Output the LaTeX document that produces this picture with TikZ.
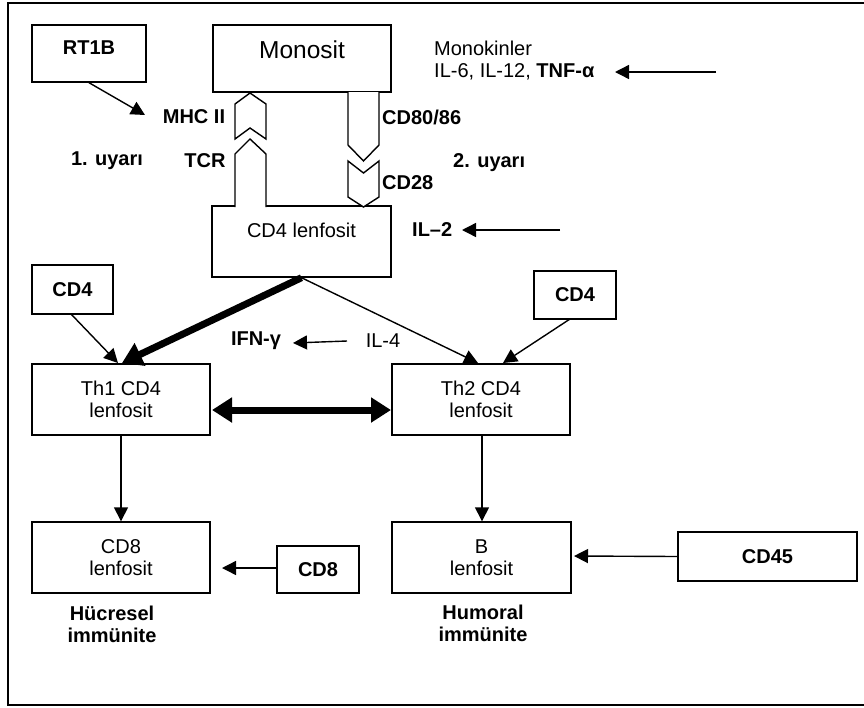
\documentclass[tikz,border=0pt]{standalone}
\usepackage{fontspec}
\setmainfont{Liberation Sans}
\usetikzlibrary{arrows.meta}
\begin{document}
\begin{tikzpicture}[x=1pt,y=-1pt,
  box/.style={draw, line width=1.4pt, fill=white, inner sep=0pt, font=\fontsize{20}{22}\selectfont, align=center},
  lbl/.style={inner sep=0pt, font=\fontsize{20}{22}\selectfont\bfseries, align=center},
  txt/.style={inner sep=0pt, font=\fontsize{20}{22}\selectfont, align=center},
  conn/.style={line width=1.4pt, -{Triangle[length=14pt,width=14pt]}},
  heavy/.style={line width=7pt, -{Triangle[length=20pt,width=24pt]}},
  recep/.style={draw, line width=1.4pt, fill=white, line join=miter}]
\useasboundingbox (0,0) rectangle (864,707);
\draw[line width=2pt] (8,3) rectangle (890,705);

% boxes
\node[box, minimum width=114pt, minimum height=57pt] (rt1b) at (89,53.5) {};
\node[lbl] (rt1bt) at (89,48) {RT1B};
\node[box, minimum width=178pt, minimum height=67pt] (mono) at (302,58.5) {};
\node[txt, font=\fontsize{24.5}{26}\selectfont] (monot) at (302,50) {Monosit};
\node[box, minimum width=179pt, minimum height=71pt] (cd4l) at (301.5,241.5) {};
\node[txt] (cd4lt) at (301.5,230) {CD4 lenfosit};
\node[box, font=\fontsize{20}{22}\selectfont\bfseries, minimum width=81pt, minimum height=49pt] (cd4a) at (72.5,289.5) {CD4};
\node[box, font=\fontsize{20}{22}\selectfont\bfseries, minimum width=82pt, minimum height=48pt] (cd4b) at (575,295) {CD4};
\node[box, minimum width=178pt, minimum height=71pt] (th1) at (121,399.5) {Th1 CD4\\lenfosit};
\node[box, minimum width=178pt, minimum height=71pt] (th2) at (481,399.5) {Th2 CD4\\lenfosit};
\node[box, minimum width=178pt, minimum height=71pt] (cd8l) at (121,557.5) {CD8\\lenfosit};
\node[box, font=\fontsize{20}{22}\selectfont\bfseries, minimum width=82pt, minimum height=47pt] (cd8) at (318,569.5) {CD8};
\node[box, minimum width=179pt, minimum height=71pt] (bl) at (481.5,557.5) {B\\lenfosit};
\node[box, font=\fontsize{20}{22}\selectfont\bfseries, minimum width=179pt, minimum height=49pt] (cd45) at (767.5,556.5) {CD45};

% receptor shapes
\draw[recep] (235,104) -- (250,93) -- (266,104) -- (266,139) -- (250,128) -- (235,139) -- cycle;
\draw[recep] (235,207) -- (235,154) -- (250,139) -- (266,154) -- (266,207);
\draw[recep] (348,92) -- (348,145) -- (363.5,161) -- (379,145) -- (379,92);
\draw[recep] (348,161) -- (363.5,173) -- (379,161) -- (379,197) -- (363.5,207) -- (348,197) -- cycle;

% labels
\node[lbl] (mhc) at (194,117) {MHC II};
\node[lbl] (u1) at (107,161) {1. uyarı};
\node[lbl] (tcr) at (205,161) {TCR};
\node[lbl, anchor=west] (cd80) at (382,117) {CD80/86};
\node[lbl, anchor=west] (u2) at (453,163) {2. uyarı};
\node[lbl, anchor=west] (cd28) at (382,183) {CD28};
\node[lbl, anchor=west] (il2) at (412,230) {IL–2};
\node[lbl] (ifn) at (256,341) {IFN-γ};
\node[txt] (il4) at (383,341) {IL-4};
\node[txt, anchor=west] (mk) at (434,48) {Monokinler};
\node[txt, anchor=west] (il6) at (434,72) {IL-6, IL-12, \textbf{TNF-α}};
\node[lbl] (huc) at (112,624.5) {Hücresel\\immünite};
\node[lbl] (hum) at (483,623.5) {Humoral\\immünite};

% free ends
\coordinate (rt1btip) at (145,115);
\coordinate (tnftail) at (716,72);
\coordinate (tnftip) at (615,72);
\coordinate (il2tail) at (560,230);
\coordinate (il2tip) at (462,230);
\coordinate (il4tail) at (347,341);
\coordinate (il4tip) at (293,343);
\coordinate (th1tip) at (122,363);
\coordinate (th2tip) at (478,363);
\coordinate (th1tipb) at (118,363);
\coordinate (th2tipb) at (503,363);
\coordinate (dl) at (212,410);
\coordinate (dr) at (391,410);
\coordinate (cd8tip) at (222,568);
\coordinate (cd45tip) at (574,556);
\coordinate (cd4as) at (71,314);
\coordinate (cd4bs) at (570,319);

% connectors
\draw[conn] (rt1b.south) -- (rt1btip);
\draw[conn] (tnftail) -- (tnftip);
\draw[conn] (il2tail) -- (il2tip);
\draw[conn] (il4tail) -- (il4tip);
\draw[heavy] (cd4l.south) -- (th1tip);
\draw[conn] (cd4l.south) -- (th2tip);
\draw[conn] (cd4as) -- (th1tipb);
\draw[conn] (cd4bs) -- (th2tipb);
\draw[line width=7pt, {Triangle[length=20pt,width=24pt]}-{Triangle[length=20pt,width=24pt]}] (dl) -- (dr);
\draw[conn] (th1.south) -- (cd8l.north);
\draw[conn] (th2.south -| 482,0) -- (bl.north -| 482,0);
\draw[conn] (cd8.west |- 0,568) -- (cd8tip);
\draw[conn] (cd45.west) -- (cd45tip);
\end{tikzpicture}
\end{document}
